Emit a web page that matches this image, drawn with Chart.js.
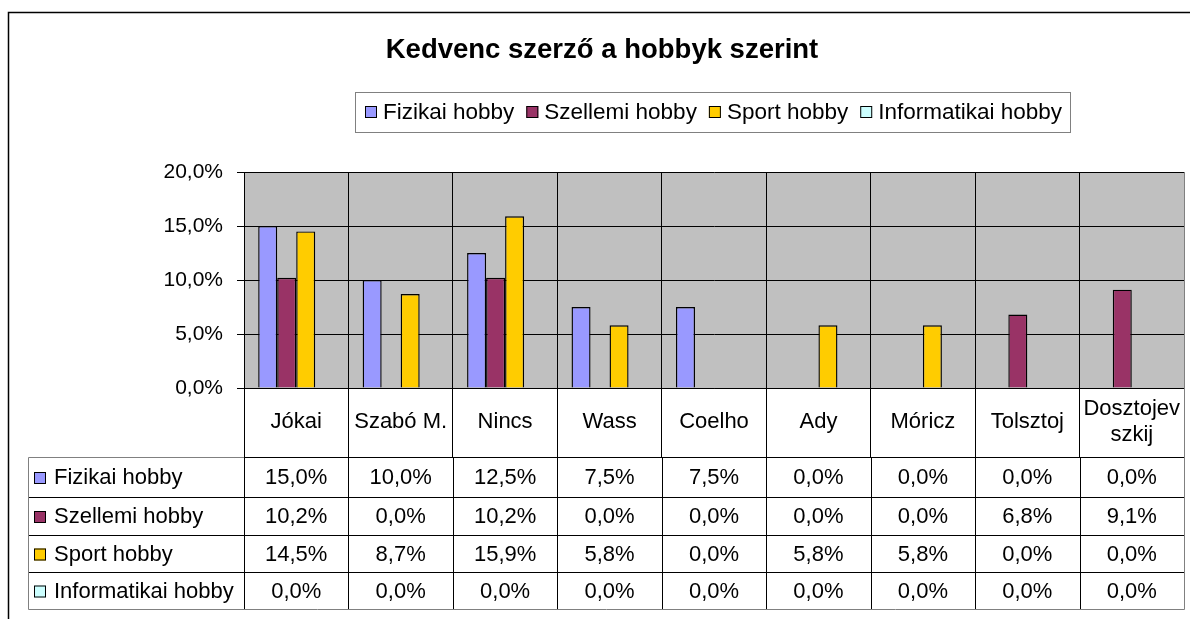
<!DOCTYPE html>
<html>
<head>
<meta charset="utf-8">
<script src="https://cdn.jsdelivr.net/npm/chart.js@4.4.0/dist/chart.umd.min.js"></script>
<style>
    body { margin: 0; background: #fff; }
    canvas { display: block; }
</style>
</head>
<body>
<canvas id="hobbyChart" width="1190" height="619"></canvas>
<script>
// chart data
var authors = ['Jókai', 'Szabó M.', 'Nincs', 'Wass', 'Coelho', 'Ady', 'Móricz', 'Tolsztoj', ['Dosztojev', 'szkij']];
var fizikai = [15.0, 10.0, 12.5, 7.5, 7.5, 0.0, 0.0, 0.0, 0.0];
var szellemi = [10.2, 0.0, 10.2, 0.0, 0.0, 0.0, 0.0, 6.8, 9.1];
var sport = [14.5, 8.7, 15.9, 5.8, 0.0, 5.8, 5.8, 0.0, 0.0];
var informatikai = [0.0, 0.0, 0.0, 0.0, 0.0, 0.0, 0.0, 0.0, 0.0];
var seriesNames = ['Fizikai hobby', 'Szellemi hobby', 'Sport hobby', 'Informatikai hobby'];
var seriesColors = ['#9999FF', '#993366', '#FFCC00', '#CCFFFF'];
var yTicks = [0, 5, 10, 15, 20];
var chartTitle = 'Kedvenc szerző a hobbyk szerint';

var FONT = '"Liberation Sans", Arial, sans-serif';
Chart.defaults.font.family = FONT;
Chart.defaults.color = '#000';

function pct(v) {
    return v.toFixed(1).replace('.', ',') + '%';
}

var seriesValues = [fizikai, szellemi, sport, informatikai];

// Excel look: gray plot area, frame, title, legend box and data table
var excelDecor = {
    id: 'excelDecor',
    beforeDraw: function(chart) {
        var ctx = chart.ctx;
        var a = chart.chartArea;
        ctx.save();
        ctx.fillStyle = '#fff';
        ctx.fillRect(0, 0, chart.width, chart.height);
        ctx.fillStyle = '#C0C0C0';
        ctx.fillRect(a.left, a.top, a.right - a.left, a.bottom - a.top);
        // outer frame
        ctx.strokeStyle = '#000';
        ctx.lineWidth = 1.5;
        ctx.beginPath();
        ctx.moveTo(8.5, chart.height);
        ctx.lineTo(8.5, 12.5);
        ctx.lineTo(chart.width, 12.5);
        ctx.stroke();
        ctx.restore();
    },
    afterDraw: function(chart) {
        var ctx = chart.ctx;
        var a = chart.chartArea;
        var xs = chart.scales.x;
        ctx.save();

        // title
        ctx.fillStyle = '#000';
        ctx.font = 'bold 27.5px ' + FONT;
        ctx.textAlign = 'center';
        ctx.textBaseline = 'alphabetic';
        ctx.fillText(chartTitle, 602, 58);

        // legend
        ctx.strokeStyle = '#808080';
        ctx.lineWidth = 1;
        ctx.strokeRect(355.5, 92.5, 715, 40);
        ctx.font = '22.5px ' + FONT;
        ctx.textAlign = 'left';
        ctx.textBaseline = 'middle';
        var lx = 365;
        seriesNames.forEach(function(name, i) {
            ctx.fillStyle = seriesColors[i];
            ctx.fillRect(lx, 106, 12, 12);
            ctx.strokeStyle = '#000';
            ctx.strokeRect(lx + 0.5, 106.5, 11, 11);
            ctx.fillStyle = '#000';
            ctx.fillText(name, lx + 18, 113);
            lx += 18 + ctx.measureText(name).width + 12;
        });

        // data table
        var rows = [457, 497, 535, 572, 609];
        var tLeft = 28;
        var half = (xs.getPixelForValue(1) - xs.getPixelForValue(0)) / 2;
        ctx.lineWidth = 1;
        ctx.strokeStyle = '#000';
        ctx.beginPath();
        for (var r = 1; r < rows.length - 1; r++) {
            ctx.moveTo(tLeft, rows[r] + 0.5);
            ctx.lineTo(a.right, rows[r] + 0.5);
        }
        ctx.moveTo(a.left, rows[0] + 0.5);
        ctx.lineTo(a.right, rows[0] + 0.5);
        for (var c = 0; c < authors.length; c++) {
            var bx = Math.round(xs.getPixelForValue(c) - half) + 0.5;
            ctx.moveTo(bx, rows[0]);
            ctx.lineTo(bx, rows[rows.length - 1]);
        }
        ctx.stroke();

        ctx.strokeStyle = '#808080';
        ctx.beginPath();
        ctx.moveTo(a.left, rows[0] + 0.5);
        ctx.lineTo(tLeft + 0.5, rows[0] + 0.5);
        ctx.lineTo(tLeft + 0.5, rows[rows.length - 1] + 0.5);
        ctx.lineTo(a.right + 0.5, rows[rows.length - 1] + 0.5);
        ctx.lineTo(a.right + 0.5, a.top);
        ctx.stroke();

        ctx.font = '22px ' + FONT;
        ctx.textBaseline = 'middle';
        seriesNames.forEach(function(name, i) {
            var cy = (rows[i] + rows[i + 1]) / 2 + 1;
            ctx.fillStyle = seriesColors[i];
            ctx.fillRect(34, cy - 6, 12, 12);
            ctx.strokeStyle = '#000';
            ctx.strokeRect(34.5, cy - 5.5, 11, 11);
            ctx.fillStyle = '#000';
            ctx.textAlign = 'left';
            ctx.fillText(name, 54, cy);
            ctx.textAlign = 'center';
            seriesValues[i].forEach(function(v, j) {
                ctx.fillText(pct(v), xs.getPixelForValue(j), cy);
            });
        });
        ctx.restore();
    }
};

var ctx = document.getElementById('hobbyChart').getContext('2d');
var hobbyChart = new Chart(ctx, {
    type: 'bar',
    data: {
        labels: authors,
        datasets: seriesNames.map(function(name, i) {
            return {
                label: name,
                data: seriesValues[i],
                backgroundColor: seriesColors[i],
                borderColor: '#000',
                borderWidth: 1.4,
                categoryPercentage: 0.728,
                barPercentage: 1.0
            };
        })
    },
    options: {
        responsive: false,
        animation: false,
        events: [],
        layout: {
            padding: { top: 172, right: 6, bottom: 162, left: 0 }
        },
        plugins: {
            title: { display: false },
            legend: { display: false },
            tooltip: { enabled: false }
        },
        scales: {
            x: {
                grid: {
                    color: '#000',
                    offset: true,
                    tickLength: 69,
                    drawOnChartArea: true
                },
                border: { color: '#000' },
                ticks: {
                    font: { size: 22 },
                    color: '#000',
                    autoSkip: false,
                    maxRotation: 0,
                    minRotation: 0,
                    crossAlign: 'center',
                    padding: -48
                },
                afterFit: function(scale) {
                    scale.height = 69;
                }
            },
            y: {
                min: yTicks[0],
                max: yTicks[yTicks.length - 1],
                grid: {
                    color: '#000',
                    tickLength: 7
                },
                border: { color: '#000' },
                ticks: {
                    stepSize: 5,
                    font: { size: 21 },
                    color: '#000',
                    padding: 14,
                    callback: function(value) {
                        return pct(value);
                    }
                },
                afterFit: function(scale) {
                    scale.width = 244;
                }
            }
        }
    },
    plugins: [excelDecor]
});
</script>
</body>
</html>
